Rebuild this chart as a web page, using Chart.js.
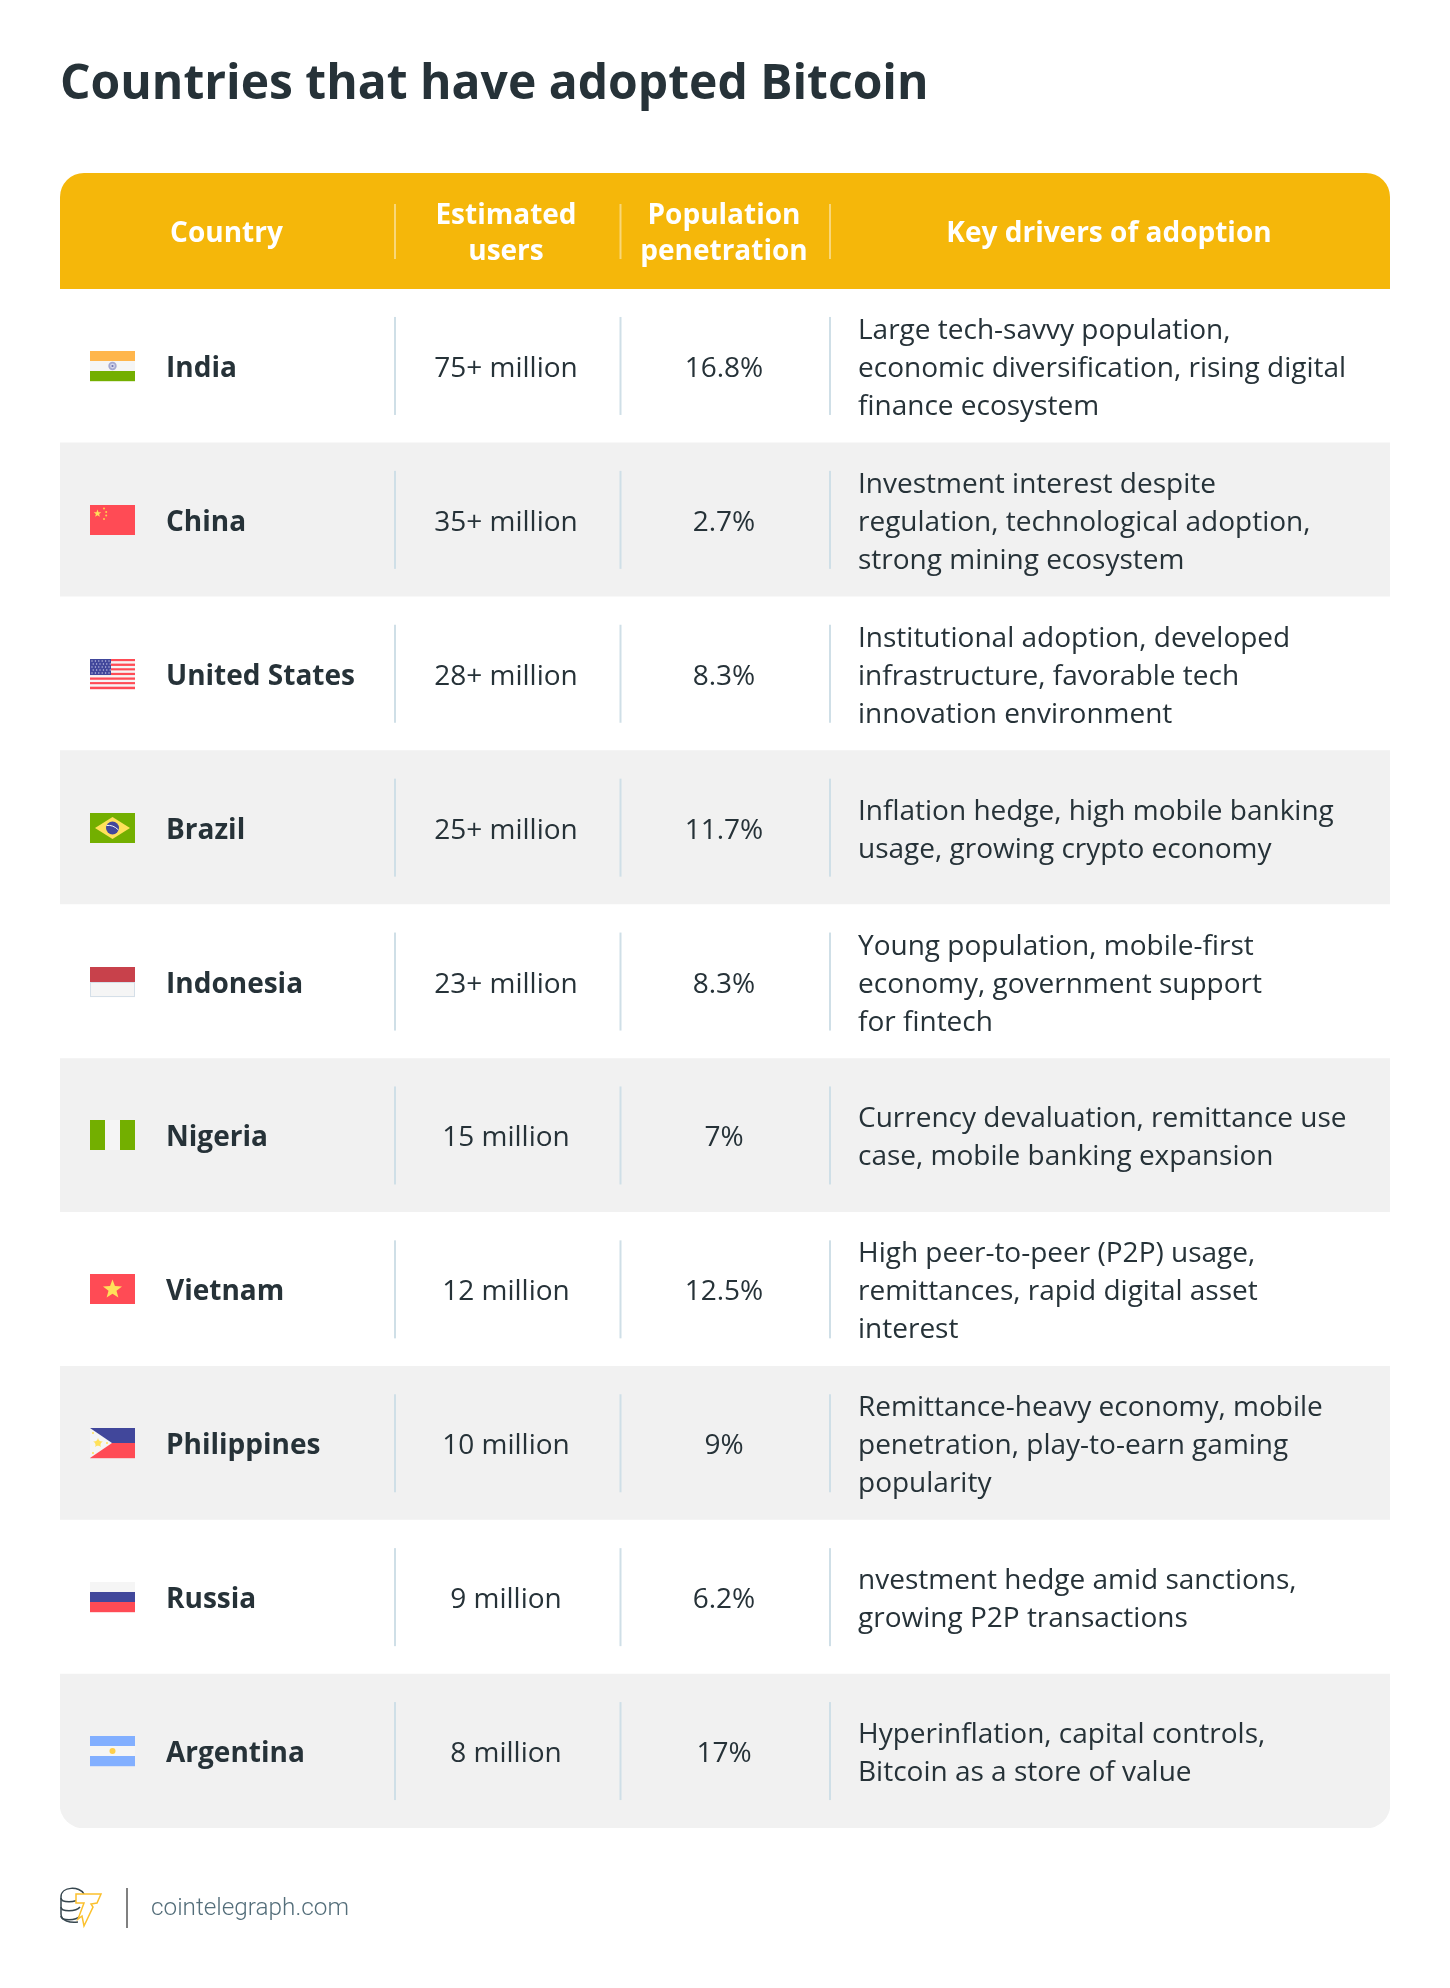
<!DOCTYPE html>
<html>
<head>
<meta charset="utf-8">
<title>Countries that have adopted Bitcoin</title>
<script src="https://cdn.jsdelivr.net/npm/chart.js@4"></script>
<style>
  html, body { margin: 0; padding: 0; background: #fff; }
  canvas { display: block; }
</style>
</head>
<body>
<canvas id="tabla" width="1450" height="1988"></canvas>
<script>
const chartTitle = 'Countries that have adopted Bitcoin';
const footerText = 'cointelegraph.com';
const headers = [['Country'], ['Estimated', 'users'], ['Population', 'penetration'], ['Key drivers of adoption']];
const countries = ['India', 'China', 'United States', 'Brazil', 'Indonesia', 'Nigeria', 'Vietnam', 'Philippines', 'Russia', 'Argentina'];
const estimatedUsers = ['75+ million', '35+ million', '28+ million', '25+ million', '23+ million', '15 million', '12 million', '10 million', '9 million', '8 million'];
const penetration = ['16.8%', '2.7%', '8.3%', '11.7%', '8.3%', '7%', '12.5%', '9%', '6.2%', '17%'];
const drivers = [
  ['Large tech-savvy population,', 'economic diversification, rising digital', 'finance ecosystem'],
  ['Investment interest despite', 'regulation, technological adoption,', 'strong mining ecosystem'],
  ['Institutional adoption, developed', 'infrastructure, favorable tech', 'innovation environment'],
  ['Inflation hedge, high mobile banking', 'usage, growing crypto economy'],
  ['Young population, mobile-first', 'economy, government support', 'for fintech'],
  ['Currency devaluation, remittance use', 'case, mobile banking expansion'],
  ['High peer-to-peer (P2P) usage,', 'remittances, rapid digital asset', 'interest'],
  ['Remittance-heavy economy, mobile', 'penetration, play-to-earn gaming', 'popularity'],
  ['nvestment hedge amid sanctions,', 'growing P2P transactions'],
  ['Hyperinflation, capital controls,', 'Bitcoin as a store of value']
];

// Bordes de columna en unidades del eje x
const X_MIN = 60, X_MAX = 1390;
const X_DIV = [395, 620.5, 830];
const X_CENTRO = [226.5, 506, 724, 1109];

const DARK = '#263238';
const FONT = "'Open Sans', sans-serif";
const RED = '#ff4b55', BLUE = '#41479b', WHITE = '#f5f5f5', GREEN = '#73af00', YELLOW = '#ffe15a';

function estrella(ctx, cx, cy, r, color) {
  ctx.fillStyle = color;
  ctx.beginPath();
  for (let i = 0; i < 10; i++) {
    const rad = i % 2 ? r * 0.42 : r;
    const a = -Math.PI / 2 + i * Math.PI / 5;
    ctx.lineTo(cx + rad * Math.cos(a), cy + rad * Math.sin(a));
  }
  ctx.closePath();
  ctx.fill();
}

function circulo(ctx, cx, cy, r, color) {
  ctx.fillStyle = color;
  ctx.beginPath();
  ctx.arc(cx, cy, r, 0, Math.PI * 2);
  ctx.fill();
}

function franjasH(ctx, colores) {
  const h = 30 / colores.length;
  colores.forEach((c, i) => {
    ctx.fillStyle = c;
    ctx.fillRect(0, i * h, 45, h + 0.2);
  });
}

// Banderas dibujadas en una caja de 45x30
const flags = {
  India(ctx) {
    franjasH(ctx, ['#ffb64c', WHITE, GREEN]);
    circulo(ctx, 22.5, 15, 4.2, '#a5a8d0');
    circulo(ctx, 22.5, 15, 2.4, '#d5d6ea');
    circulo(ctx, 22.5, 15, 1.1, '#6a6fb2');
  },
  China(ctx) {
    ctx.fillStyle = RED;
    ctx.fillRect(0, 0, 45, 30);
    estrella(ctx, 7.5, 8.5, 4, YELLOW);
    [[14, 3.5], [16.2, 7], [16.2, 10.5], [14, 14]].forEach(p => circulo(ctx, p[0], p[1], 1, '#ffcf4a'));
  },
  'United States'(ctx) {
    for (let i = 0; i < 13; i++) {
      ctx.fillStyle = i % 2 ? WHITE : RED;
      ctx.fillRect(0, i * 30 / 13, 45, 30 / 13 + 0.2);
    }
    ctx.fillStyle = BLUE;
    ctx.fillRect(0, 0, 21, 16);
    for (let f = 0; f < 5; f++) {
      for (let c = 0; c < 6; c++) {
        circulo(ctx, 2 + c * 3.4 + (f % 2) * 1.2, 2 + f * 3, 0.7, '#c4c6e4');
      }
    }
  },
  Brazil(ctx) {
    ctx.fillStyle = GREEN;
    ctx.fillRect(0, 0, 45, 30);
    ctx.fillStyle = YELLOW;
    ctx.beginPath();
    ctx.moveTo(22.5, 4);
    ctx.lineTo(40, 15);
    ctx.lineTo(22.5, 26);
    ctx.lineTo(5, 15);
    ctx.closePath();
    ctx.fill();
    circulo(ctx, 22.5, 15, 6.5, BLUE);
    ctx.strokeStyle = WHITE;
    ctx.lineWidth = 1;
    ctx.beginPath();
    ctx.moveTo(16.5, 12.5);
    ctx.quadraticCurveTo(23, 11.5, 28.5, 17);
    ctx.stroke();
  },
  Indonesia(ctx) {
    franjasH(ctx, ['#c8414b', WHITE]);
    ctx.strokeStyle = '#d5dfe8';
    ctx.lineWidth = 1;
    ctx.strokeRect(0.5, 15.5, 44, 14);
  },
  Nigeria(ctx) {
    ctx.fillStyle = GREEN;
    ctx.fillRect(0, 0, 15, 30);
    ctx.fillRect(30, 0, 15, 30);
    ctx.fillStyle = WHITE;
    ctx.fillRect(15, 0, 15, 30);
  },
  Vietnam(ctx) {
    ctx.fillStyle = RED;
    ctx.fillRect(0, 0, 45, 30);
    estrella(ctx, 22.5, 15.5, 10, YELLOW);
  },
  Philippines(ctx) {
    franjasH(ctx, [BLUE, RED]);
    ctx.fillStyle = WHITE;
    ctx.beginPath();
    ctx.moveTo(0, 0);
    ctx.lineTo(22, 15);
    ctx.lineTo(0, 30);
    ctx.closePath();
    ctx.fill();
    estrella(ctx, 8, 15, 5, YELLOW);
    circulo(ctx, 8, 15, 2.8, YELLOW);
    [[3, 5], [3, 25], [17, 15]].forEach(p => circulo(ctx, p[0], p[1], 1, YELLOW));
  },
  Russia(ctx) {
    franjasH(ctx, [WHITE, BLUE, RED]);
  },
  Argentina(ctx) {
    franjasH(ctx, ['#82afff', WHITE, '#82afff']);
    circulo(ctx, 22.5, 15, 3, '#ffcf4a');
  }
};

function logo(ctx) {
  // Monedas
  ctx.strokeStyle = '#37474f';
  ctx.lineWidth = 1.5;
  [0, 1, 2].forEach(i => {
    ctx.beginPath();
    ctx.moveTo(80, 1898 + i * 9);
    ctx.bezierCurveTo(76, 1903 + i * 9, 61, 1903 + i * 9, 61, 1898 + i * 9);
    ctx.stroke();
  });
  ctx.beginPath();
  ctx.moveTo(84, 1894);
  ctx.bezierCurveTo(80, 1886, 61, 1886, 61, 1897);
  ctx.lineTo(61, 1914);
  ctx.bezierCurveTo(61, 1921, 70, 1923, 78, 1922);
  ctx.stroke();
  // Rayo
  ctx.fillStyle = '#fff';
  ctx.strokeStyle = '#fbc02d';
  ctx.lineWidth = 1.5;
  ctx.beginPath();
  ctx.moveTo(76, 1894);
  ctx.lineTo(101, 1894);
  ctx.lineTo(97, 1903);
  ctx.lineTo(91, 1904);
  ctx.lineTo(93, 1907);
  ctx.lineTo(84, 1926);
  ctx.lineTo(82, 1916);
  ctx.lineTo(78, 1919);
  ctx.lineTo(84, 1903);
  ctx.lineTo(76, 1903);
  ctx.closePath();
  ctx.fill();
  ctx.stroke();
}

// Plugin que dibuja cabecera, celdas, banderas y pie sobre las escalas
const tablaPlugin = {
  id: 'tabla',
  afterDatasetsDraw(chart) {
    const { ctx, scales: { x, y } } = chart;
    const top = y.getPixelForValue(0) - y.height / countries.length / 2;

    ctx.save();
    ctx.textBaseline = 'alphabetic';
    ctx.textAlign = 'left';
    ctx.fillStyle = DARK;
    ctx.font = `700 48px ${FONT}`;
    ctx.fillText(chartTitle, x.getPixelForValue(60), 99);

    // Cabecera
    ctx.fillStyle = '#f5b70a';
    ctx.beginPath();
    ctx.roundRect(x.left, 173, x.width, top - 173, [24, 24, 0, 0]);
    ctx.fill();
    ctx.textBaseline = 'middle';
    ctx.textAlign = 'center';
    ctx.fillStyle = '#fff';
    ctx.font = `700 28px ${FONT}`;
    headers.forEach((lineas, i) => {
      const cx = x.getPixelForValue(X_CENTRO[i]);
      lineas.forEach((t, j) => {
        ctx.fillText(t, cx, 234.5 + (j - (lineas.length - 1) / 2) * 36);
      });
    });
    ctx.fillStyle = 'rgba(255,255,255,0.45)';
    X_DIV.forEach(d => ctx.fillRect(x.getPixelForValue(d) - 1, 204, 2, 55));

    // Filas
    countries.forEach((nombre, i) => {
      const cy = y.getPixelForValue(i);
      const cyTexto = cy + 3;
      ctx.fillStyle = '#cfdfe7';
      X_DIV.forEach(d => ctx.fillRect(x.getPixelForValue(d) - 1, cy - 49, 2, 98));

      ctx.save();
      ctx.translate(90, Math.round(cy) - 15);
      flags[nombre](ctx);
      ctx.restore();

      ctx.fillStyle = DARK;
      ctx.textAlign = 'left';
      ctx.font = `700 28px ${FONT}`;
      ctx.fillText(nombre, 166, cyTexto);

      ctx.textAlign = 'center';
      ctx.font = `400 28px ${FONT}`;
      ctx.fillText(estimatedUsers[i], x.getPixelForValue(X_CENTRO[1]), cyTexto);
      ctx.fillText(penetration[i], x.getPixelForValue(X_CENTRO[2]), cyTexto);

      ctx.textAlign = 'left';
      const lineas = drivers[i];
      lineas.forEach((t, j) => {
        ctx.fillText(t, 858, cyTexto + (j - (lineas.length - 1) / 2) * 38);
      });
    });

    // Pie
    logo(ctx);
    ctx.fillStyle = '#808080';
    ctx.fillRect(126, 1888, 2, 40);
    ctx.fillStyle = '#546e7a';
    ctx.textAlign = 'left';
    ctx.font = "300 24.3px Roboto, sans-serif";
    ctx.fillText(footerText, 151, 1909);
    ctx.restore();
  }
};

new Chart(document.getElementById('tabla'), {
  type: 'bar',
  plugins: [tablaPlugin],
  data: {
    labels: countries,
    datasets: [{
      data: countries.map(() => [X_MIN, X_MAX]),
      backgroundColor: countries.map((_, i) => (i % 2 ? '#f1f1f1' : '#ffffff')),
      borderRadius: countries.map((_, i) => (i === countries.length - 1
        ? { topLeft: 0, topRight: 0, bottomLeft: 24, bottomRight: 24 } : 0)),
      borderSkipped: false,
      barPercentage: 1,
      categoryPercentage: 1
    }]
  },
  options: {
    indexAxis: 'y',
    responsive: false,
    animation: false,
    layout: { padding: { left: 60, right: 60, top: 289, bottom: 160 } },
    plugins: { legend: { display: false }, tooltip: { enabled: false } },
    scales: {
      x: { type: 'linear', display: false, min: X_MIN, max: X_MAX },
      y: { type: 'category', display: false }
    }
  }
});
</script>
</body>
</html>
